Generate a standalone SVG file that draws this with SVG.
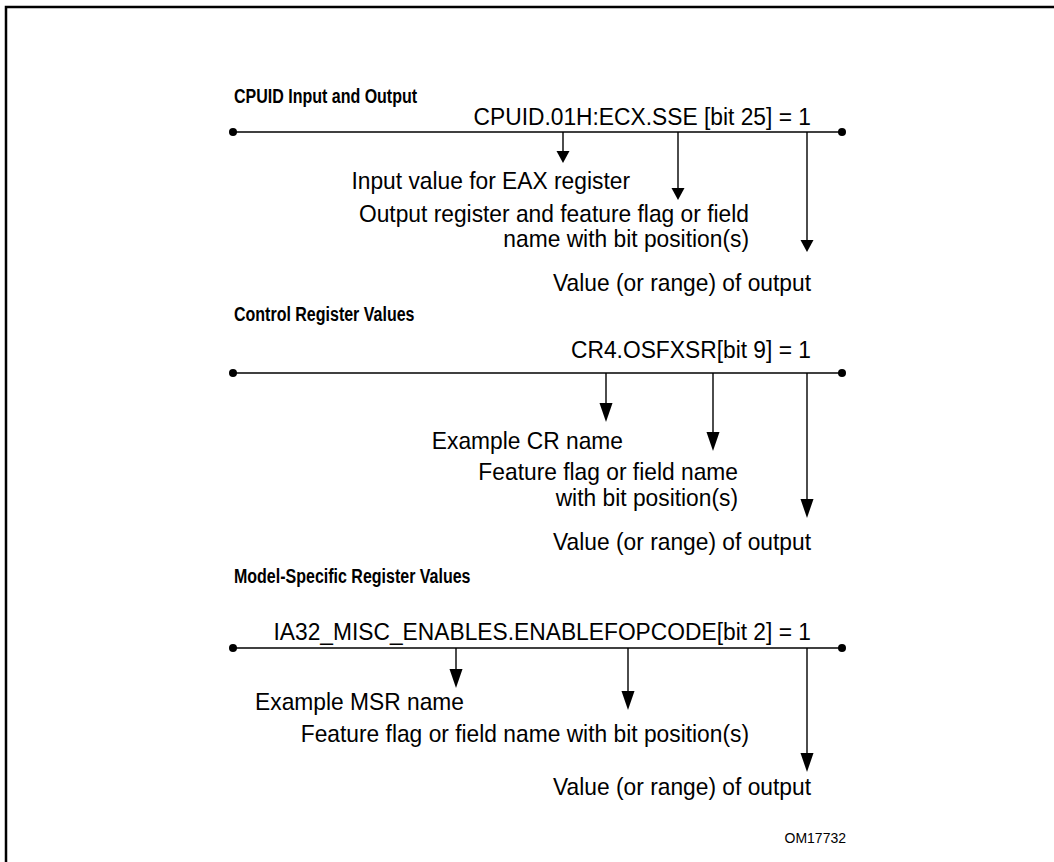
<svg xmlns="http://www.w3.org/2000/svg" width="1054" height="862" viewBox="0 0 1054 862">
<defs>
<style>
.t{font-family:"Liberation Sans",Arial,sans-serif;font-size:24px;fill:#000}
.e{text-anchor:end}
.h{font-family:"Liberation Sans",Arial,sans-serif;font-size:20px;font-weight:bold;fill:#000}
.s{font-family:"Liberation Sans",Arial,sans-serif;font-size:14px;fill:#000;text-anchor:end}
.ln{stroke:#000;stroke-width:1.4;fill:none}
.dot{fill:#000}
.ah{fill:#000}
</style>
</defs>
<rect width="1054" height="862" fill="#fff"/>
<path d="M6,862 V7 H1054" fill="none" stroke="#000" stroke-width="2.5"/>
<g id="connectors">
  <line class="ln" x1="233" y1="132" x2="842" y2="132"/>
  <circle class="dot" cx="233" cy="132" r="4"/>
  <circle class="dot" cx="842" cy="132" r="4"/>
  <line class="ln" x1="563" y1="132" x2="563" y2="152"/>
  <polygon class="ah" points="556.5,151 569.5,151 563,163"/>
  <line class="ln" x1="678" y1="132" x2="678" y2="189"/>
  <polygon class="ah" points="671.5,188 684.5,188 678,200"/>
  <line class="ln" x1="807" y1="132" x2="807" y2="241"/>
  <polygon class="ah" points="800.5,240 813.5,240 807,252"/>

  <line class="ln" x1="233" y1="373" x2="842" y2="373"/>
  <circle class="dot" cx="233" cy="373" r="4"/>
  <circle class="dot" cx="842" cy="373" r="4"/>
  <line class="ln" x1="606" y1="373" x2="606" y2="404"/>
  <polygon class="ah" points="599.5,403 612.5,403 606,422"/>
  <line class="ln" x1="713" y1="373" x2="713" y2="433"/>
  <polygon class="ah" points="706.5,432 719.5,432 713,451"/>
  <line class="ln" x1="807" y1="373" x2="807" y2="500"/>
  <polygon class="ah" points="800.5,499 813.5,499 807,518"/>

  <line class="ln" x1="233" y1="648" x2="842" y2="648"/>
  <circle class="dot" cx="233" cy="648" r="4"/>
  <circle class="dot" cx="842" cy="648" r="4"/>
  <line class="ln" x1="456" y1="648" x2="456" y2="670"/>
  <polygon class="ah" points="449.5,669 462.5,669 456,688"/>
  <line class="ln" x1="628" y1="648" x2="628" y2="692"/>
  <polygon class="ah" points="621.5,691 634.5,691 628,710"/>
  <line class="ln" x1="807" y1="648" x2="807" y2="754"/>
  <polygon class="ah" points="800.5,753 813.5,753 807,772"/>
</g>
<g id="cpuid">
  <text class="h" transform="translate(234,103) scale(0.8,1)">CPUID Input and Output</text>
  <text class="t e" transform="translate(811,125) scale(0.95,1)">CPUID.01H:ECX.SSE [bit 25] = 1</text>
  <text class="t e" transform="translate(630,189) scale(0.95,1)">Input value for EAX register</text>
  <text class="t e" transform="translate(749,222) scale(0.95,1)">Output register and feature flag or field</text>
  <text class="t e" transform="translate(749,247) scale(0.95,1)">name with bit position(s)</text>
  <text class="t e" transform="translate(811,291) scale(0.95,1)">Value (or range) of output</text>
</g>
<g id="cr">
  <text class="h" transform="translate(234,321) scale(0.8,1)">Control Register Values</text>
  <text class="t e" transform="translate(811,358) scale(0.95,1)">CR4.OSFXSR[bit 9] = 1</text>
  <text class="t e" transform="translate(623,449) scale(0.95,1)">Example CR name</text>
  <text class="t e" transform="translate(738,480) scale(0.95,1)">Feature flag or field name</text>
  <text class="t e" transform="translate(738,506) scale(0.95,1)">with bit position(s)</text>
  <text class="t e" transform="translate(811,550) scale(0.95,1)">Value (or range) of output</text>
</g>
<g id="msr">
  <text class="h" transform="translate(234,583) scale(0.8,1)">Model-Specific Register Values</text>
  <text class="t e" transform="translate(811,640) scale(0.95,1)">IA32_MISC_ENABLES.ENABLEFOPCODE[bit 2] = 1</text>
  <text class="t e" transform="translate(464,710) scale(0.95,1)">Example MSR name</text>
  <text class="t e" transform="translate(749,742) scale(0.95,1)">Feature flag or field name with bit position(s)</text>
  <text class="t e" transform="translate(811,795) scale(0.95,1)">Value (or range) of output</text>
</g>
<g id="figure-id">
  <text class="s" x="846" y="843">OM17732</text>
</g>
</svg>
